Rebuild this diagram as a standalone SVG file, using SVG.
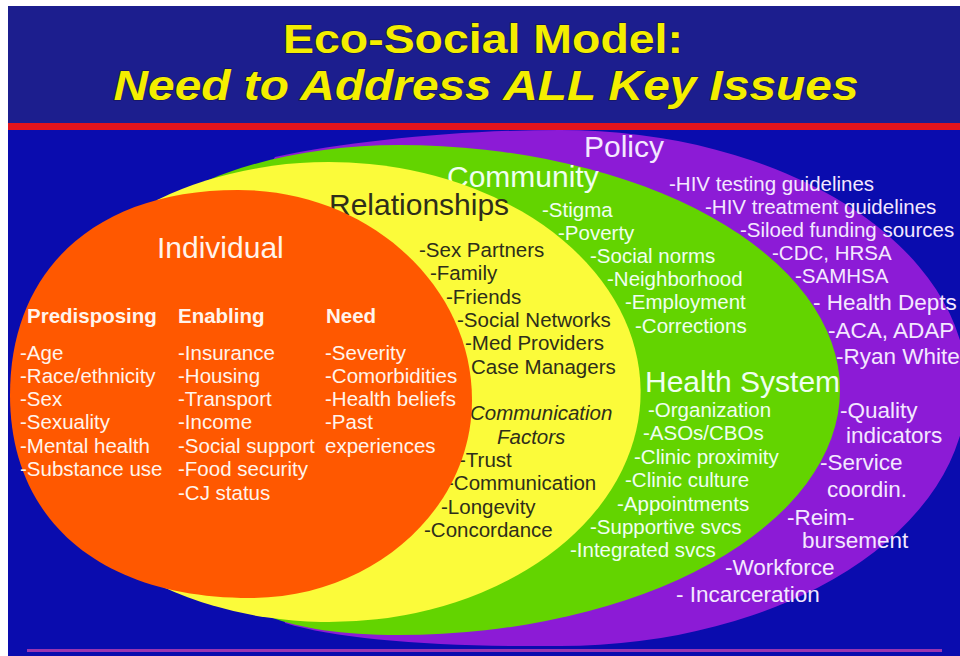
<svg xmlns="http://www.w3.org/2000/svg" width="960" height="656" viewBox="0 0 960 656">
<style>
text{font-family:"Liberation Sans",Arial,Helvetica,sans-serif}
.ttl{fill:#f4ee00;font-weight:bold;stroke:#14144a;stroke-width:1.2;paint-order:stroke}
.lbl{font-size:30px}
.it{font-size:20.5px}
.big{font-size:22.5px}
.hd{font-size:20.5px;font-weight:bold}
.pol{fill:#f4e8ff}
.com{fill:#effff0}
.rel{fill:#2e2e1a}
.ind{fill:#fff4ec}
.ital{font-style:italic}
</style>
<rect x="0" y="0" width="960" height="656" fill="#ffffff"/>
<rect x="8" y="6" width="952" height="650" fill="#0a0cae"/>
<rect x="8" y="6" width="952" height="118" fill="#1c1e8e"/>
<rect x="8" y="123" width="952" height="7" fill="#e2141c"/>
<rect x="27" y="649" width="915" height="3" fill="#9a35b0"/>

<g id="title">
<text class="ttl" x="483" y="53" text-anchor="middle" font-size="40" textLength="400" lengthAdjust="spacingAndGlyphs">Eco-Social Model:</text>
<text class="ttl" x="486" y="100" text-anchor="middle" font-size="42" font-style="italic" textLength="745" lengthAdjust="spacingAndGlyphs">Need to Address ALL Key Issues</text>
</g>

<g id="policy">
<path d="M 275,157 C 350,141 460,130 560,130 A 407 258 0 0 1 560,646 C 440,647 340,640 285,623 L 250,500 L 220,240 Z" fill="#8c1bd6"/>
<text class="lbl pol" x="584" y="157">Policy</text>
<g class="pol">
<text class="it" x="669" y="191">-HIV testing guidelines</text>
<text class="it" x="705" y="214">-HIV treatment guidelines</text>
<text class="it" x="740" y="237">-Siloed funding sources</text>
<text class="it" x="772" y="260">-CDC, HRSA</text>
<text class="it" x="795" y="283">-SAMHSA</text>
<text class="big" x="813" y="310">- Health Depts</text>
<text class="big" x="828" y="338">-ACA, ADAP</text>
<text class="big" x="836" y="364">-Ryan White</text>
<text class="big" x="840" y="418">-Quality</text>
<text class="big" x="846" y="443">indicators</text>
<text class="big" x="820" y="470">-Service</text>
<text class="big" x="827" y="497">coordin.</text>
<text class="big" x="787" y="525">-Reim-</text>
<text class="big" x="802" y="548">bursement</text>
<text class="big" x="725" y="575">-Workforce</text>
<text class="big" x="676" y="602">- Incarceration</text>
</g>
</g>

<g id="community">
<path d="M 200,184 C 250,160 325,145 399,145 A 441 245 0 0 1 399,635 C 340,635 300,628 270,617 L 240,500 L 180,260 Z" fill="#63d400"/>
<text class="lbl com" x="447" y="187">Community</text>
<g class="com">
<text class="it" x="542" y="217">-Stigma</text>
<text class="it" x="558" y="240">-Poverty</text>
<text class="it" x="590" y="263">-Social norms</text>
<text class="it" x="607" y="286">-Neighborhood</text>
<text class="it" x="625" y="309">-Employment</text>
<text class="it" x="635" y="333">-Corrections</text>
</g>
<g id="health-system" class="com">
<text class="lbl" x="645" y="392">Health System</text>
<text class="it" x="648" y="417">-Organization</text>
<text class="it" x="643" y="440">-ASOs/CBOs</text>
<text class="it" x="634" y="464">-Clinic proximity</text>
<text class="it" x="625" y="487">-Clinic culture</text>
<text class="it" x="617" y="511">-Appointments</text>
<text class="it" x="590" y="534">-Supportive svcs</text>
<text class="it" x="570" y="557">-Integrated svcs</text>
</g>
</g>

<g id="relationships">
<path d="M 157,200 A 312 230 0 1 1 163,587 L 100,395 Z" fill="#fbfb3a"/>
<text class="lbl rel" x="329" y="215">Relationships</text>
<g class="rel">
<text class="it" x="419" y="257">-Sex Partners</text>
<text class="it" x="430" y="280">-Family</text>
<text class="it" x="446" y="304">-Friends</text>
<text class="it" x="457" y="327">-Social Networks</text>
<text class="it" x="465" y="350">-Med Providers</text>
<text class="it" x="471" y="374">Case Managers</text>
<text class="it ital" x="470" y="420">Communication</text>
<text class="it ital" x="497" y="444">Factors</text>
<text class="it" x="459" y="467">-Trust</text>
<text class="it" x="447" y="490">-Communication</text>
<text class="it" x="441" y="514">-Longevity</text>
<text class="it" x="424" y="537">-Concordance</text>
</g>
</g>

<g id="individual">
<path d="M 10,395 C 10,268 97,190 238,190 C 367,190 472,284 472,400 C 472,509 373,598 250,598 C 101,598 10,521 10,395 Z" fill="#ff5800"/>
<text class="lbl ind" x="157" y="258">Individual</text>
<g class="ind">
<text class="hd" x="27" y="323">Predisposing</text>
<text class="hd" x="178" y="323">Enabling</text>
<text class="hd" x="326" y="323">Need</text>
<text class="it" x="20" y="360">-Age</text>
<text class="it" x="20" y="383">-Race/ethnicity</text>
<text class="it" x="20" y="406">-Sex</text>
<text class="it" x="20" y="429">-Sexuality</text>
<text class="it" x="20" y="453">-Mental health</text>
<text class="it" x="20" y="476">-Substance use</text>
<text class="it" x="178" y="360">-Insurance</text>
<text class="it" x="178" y="383">-Housing</text>
<text class="it" x="178" y="406">-Transport</text>
<text class="it" x="178" y="429">-Income</text>
<text class="it" x="178" y="453">-Social support</text>
<text class="it" x="178" y="476">-Food security</text>
<text class="it" x="178" y="500">-CJ status</text>
<text class="it" x="325" y="360">-Severity</text>
<text class="it" x="325" y="383">-Comorbidities</text>
<text class="it" x="325" y="406">-Health beliefs</text>
<text class="it" x="325" y="429">-Past</text>
<text class="it" x="325" y="453">experiences</text>
</g>
</g>
</svg>
